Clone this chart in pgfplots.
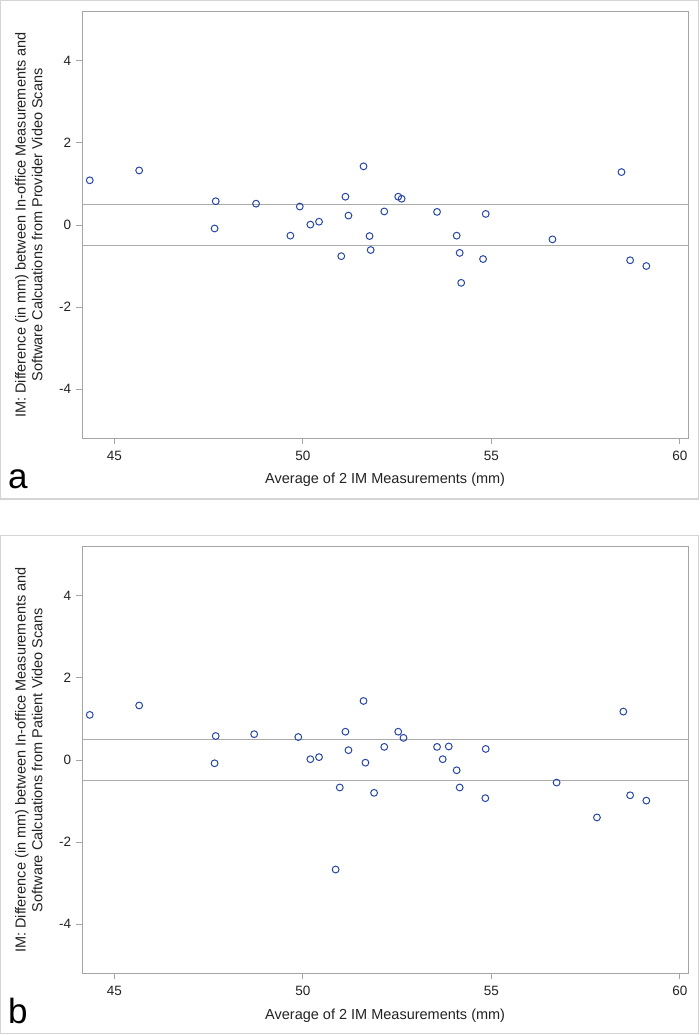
\documentclass[border=0pt]{standalone}
\usepackage{fontspec}
\setmainfont{Liberation Sans}
\usepackage{pgfplots}
\pgfplotsset{compat=1.18}
\usepackage{pgfplotstable}

\definecolor{mk}{HTML}{2747A8}
\definecolor{axcol}{HTML}{A5A5A5}
\definecolor{refcol}{HTML}{ABABAB}
\definecolor{framecol}{HTML}{D4D4D4}
\definecolor{txt}{HTML}{222222}

\pgfplotstableread{
x y
44.35 1.09
45.66 1.33
47.69 0.58
47.66 -0.085
48.76 0.52
49.92 0.45
49.67 -0.26
50.20 0.01
50.43 0.08
51.13 0.69
51.21 0.23
51.02 -0.76
51.61 1.43
51.77 -0.27
51.80 -0.61
52.16 0.33
52.53 0.69
52.62 0.64
53.56 0.32
54.85 0.27
54.08 -0.26
54.16 -0.68
54.20 -1.41
54.78 -0.83
56.62 -0.35
58.45 1.29
58.68 -0.86
59.11 -1.00
}\dataA

\pgfplotstableread{
x y
44.35 1.10
45.66 1.33
47.69 0.585
47.66 -0.08
48.71 0.63
49.88 0.56
50.20 0.02
50.43 0.07
51.13 0.69
51.21 0.24
50.98 -0.67
50.87 -2.67
51.61 1.44
51.66 -0.065
51.89 -0.80
52.16 0.32
52.53 0.69
52.67 0.54
53.56 0.32
53.87 0.33
53.71 0.02
54.08 -0.25
54.16 -0.67
54.85 0.27
54.84 -0.93
56.73 -0.55
57.80 -1.40
58.50 1.18
58.68 -0.86
59.11 -0.99
}\dataB

\pgfplotsset{
  baplot/.style={
    scale only axis,
    width=605.7pt, height=426.6pt,
    xmin=44.152, xmax=60.215,
    ymin=-5.2, ymax=5.2,
    xtick={45,50,55,60},
    ytick={-4,-2,0,2,4},
    minor tick num=0,
    tick align=outside,
    tick pos=left,
    major tick length=6pt,
    axis line style={axcol, line width=1pt},
    every tick/.style={axcol, line width=1pt},
    /pgf/number format/assume math mode=true,
    tick label style={font=\fontsize{13.5}{16}\selectfont, text=txt},
    xticklabel style={inner sep=0pt, anchor=north, yshift=-6.5pt},
    yticklabel style={inner sep=0pt, anchor=east, xshift=-5pt},
    xlabel={Average of 2 IM Measurements (mm)},
    xlabel style={font=\fontsize{14.5}{17}\selectfont, text=txt, at={(axis description cs:0.5,-0.1071)}, anchor=base, inner sep=0pt},
    ylabel style={font=\fontsize{14.5}{16.6}\selectfont, text=txt, align=center, at={(axis description cs:-0.0655,0.5)}, anchor=south, inner sep=0pt},
    clip=true,
  },
  refline/.style={refcol, line width=1.1pt, no markers},
  pts/.style={only marks, mark=o, mark size=3.4pt, mk, mark options={line width=1pt}},
}

\begin{document}
\begin{tikzpicture}
\useasboundingbox (0pt,0pt) rectangle (700pt,-1035pt);
\draw[framecol, line width=1.2pt] (0.8pt,-0.8pt) rectangle (698.4pt,-499pt);
\draw[framecol, line width=1.2pt] (0.8pt,-535.7pt) rectangle (698.4pt,-1033.6pt);

\begin{axis}[baplot, at={(82.3pt,-438.3pt)}, anchor=south west,
  ylabel={IM: Difference (in mm) between In-office Measurements and\\Software Calcuations from Provider Video Scans}]
\addplot[refline] coordinates {(44.152,0.5) (60.215,0.5)};
\addplot[refline] coordinates {(44.152,-0.5) (60.215,-0.5)};
\addplot[pts] table[x=x,y=y] {\dataA};
\end{axis}
\node[anchor=base west, inner sep=0pt, font=\fontsize{35}{40}\selectfont] at (8pt,-488pt) {a};

\begin{axis}[baplot, at={(82.3pt,-973.3pt)}, anchor=south west,
  ylabel={IM: Difference (in mm) between In-office Measurements and\\Software Calcuations from Patient Video Scans}]
\addplot[refline] coordinates {(44.152,0.5) (60.215,0.5)};
\addplot[refline] coordinates {(44.152,-0.5) (60.215,-0.5)};
\addplot[pts] table[x=x,y=y] {\dataB};
\end{axis}
\node[anchor=base west, inner sep=0pt, font=\fontsize{35}{40}\selectfont] at (8pt,-1023pt) {b};
\end{tikzpicture}
\end{document}
